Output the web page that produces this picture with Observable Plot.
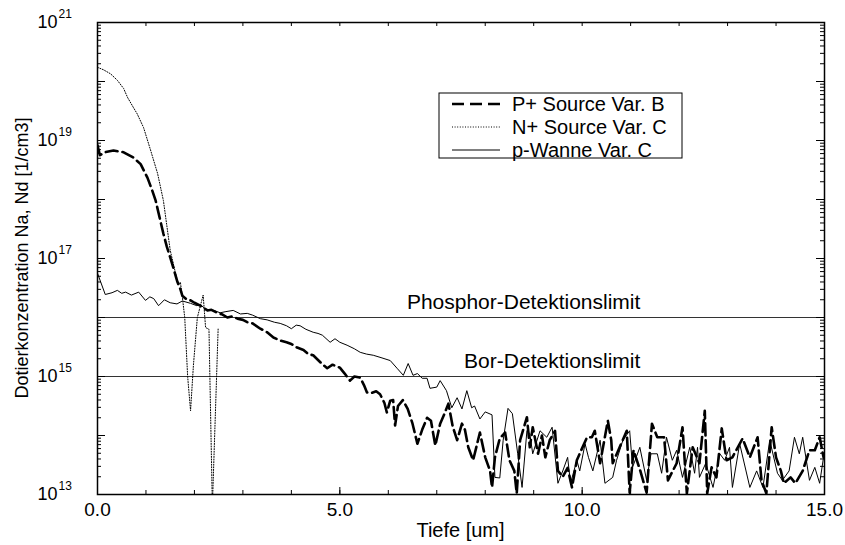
<!DOCTYPE html>
<html><head><meta charset="utf-8">
<script src="https://cdn.jsdelivr.net/npm/d3@7"></script>
<script src="https://cdn.jsdelivr.net/npm/@observablehq/plot@0.6"></script>
<style>
body{margin:0;background:#fff;}
#chart{position:relative;width:845px;height:545px;}
</style></head><body><div id="chart"></div>
<script>
// ---- data (depth in um, log10 of concentration in 1/cm3) ----
const seriesNames = ["P+ Source Var. B", "N+ Source Var. C", "p-Wanne Var. C"];

const pDepth = [0,0.05,0.15,0.33,0.54,0.74,0.89,1.03,1.13,1.2,1.28,1.36,1.43,1.5,1.58,1.65,1.71,1.75,1.85,1.92,2.0,2.12,2.27,2.35,2.47,2.58,2.68,2.78,2.89,3.0,3.09,3.2,3.36,3.5,3.63,3.77,3.9,4.0,4.12,4.25,4.35,4.45,4.55,4.65,4.74,4.85,5.0,5.1,5.21,5.3,5.42,5.5,5.56,5.65,5.75,5.83,5.92,5.97,6.04,6.1,6.14,6.2,6.3,6.4,6.5,6.6,6.7,6.8,6.88,6.97,7.07,7.15,7.24,7.33,7.42,7.52,7.58,7.65,7.75,7.89,8.0,8.1,8.14,8.2,8.3,8.41,8.5,8.6,8.65,8.72,8.86,8.92,8.98,9.09,9.17,9.24,9.33,9.44,9.5,9.6,9.7,9.79,9.89,9.98,10.1,10.2,10.26,10.37,10.53,10.6,10.63,10.72,10.92,10.98,11.06,11.2,11.33,11.44,11.55,11.69,11.77,11.95,12.07,12.16,12.28,12.42,12.53,12.58,12.67,12.77,12.88,12.98,13.1,13.31,13.46,13.62,13.7,13.8,13.91,14.0,14.1,14.16,14.3,14.4,14.55,14.69,14.8,14.9,14.98];
const pLog = [18.92,18.75,18.8,18.83,18.8,18.71,18.6,18.37,18.15,17.98,17.7,17.42,17.2,17.02,16.8,16.6,16.48,16.37,16.3,16.29,16.25,16.2,16.12,16.13,16.08,16.05,16.0,16.02,15.98,15.96,15.92,15.9,15.81,15.75,15.66,15.61,15.58,15.55,15.49,15.45,15.38,15.36,15.28,15.2,15.14,15.2,15.15,15.05,14.93,15.0,14.98,14.85,14.73,14.72,14.75,14.7,14.55,14.39,14.59,14.6,14.17,14.5,14.6,14.45,14.2,13.86,14.1,14.3,14.25,13.83,14.2,14.35,14.54,14.15,13.92,14.2,14.1,13.8,13.58,14.05,13.63,13.4,13.12,13.63,13.95,14.05,13.58,13.4,13.02,13.92,14.31,13.8,14.14,13.69,14.0,13.63,13.92,14.08,13.4,13.3,13.45,13.12,13.58,13.75,13.97,13.97,14.08,13.53,14.25,13.92,13.53,13.7,14.08,13.03,13.75,13.4,13.03,14.2,13.97,13.97,13.24,13.53,14.14,13.02,13.8,13.53,14.42,13.02,13.46,13.29,14.12,13.58,13.63,13.95,13.63,13.97,13.24,13.02,14.14,13.63,13.4,13.19,13.29,13.19,13.4,13.75,13.75,13.97,13.63];

const nDepth = [0,0.12,0.27,0.41,0.54,0.62,0.74,0.82,0.95,1.09,1.24,1.36,1.5,1.61,1.67,1.71,1.75,1.8,1.86,1.92,1.98,2.06,2.18,2.23,2.3,2.37,2.49];
const nLog = [20.24,20.2,20.13,20.02,19.88,19.73,19.56,19.45,19.22,18.85,18.44,17.98,17.14,16.75,16.55,16.6,16.35,16.0,15.0,14.42,15.2,16.0,16.38,15.83,15.8,12.8,15.83];

const wDepth = [0,0.16,0.3,0.41,0.5,0.58,0.7,0.85,0.99,1.08,1.16,1.26,1.38,1.5,1.64,1.75,1.92,2.05,2.12,2.26,2.4,2.53,2.65,2.8,2.95,3.09,3.2,3.36,3.5,3.65,3.77,3.9,4.0,4.1,4.18,4.3,4.45,4.55,4.64,4.8,4.9,5.0,5.15,5.3,5.42,5.55,5.69,5.85,6.04,6.18,6.31,6.41,6.51,6.6,6.7,6.8,6.86,7.0,7.07,7.2,7.31,7.42,7.52,7.62,7.72,7.78,7.89,8.0,8.14,8.2,8.3,8.37,8.47,8.56,8.67,8.76,8.86,8.92,8.98,9.13,9.27,9.38,9.5,9.6,9.7,9.76,9.89,9.95,10.06,10.13,10.22,10.37,10.47,10.63,10.71,10.84,10.98,11.04,11.19,11.33,11.42,11.55,11.64,11.74,11.86,11.95,12.07,12.22,12.32,12.38,12.42,12.55,12.7,12.84,12.94,13.04,13.1,13.25,13.46,13.6,13.73,13.87,14.03,14.13,14.27,14.38,14.48,14.55,14.69,14.8,14.9,14.98];
const wLog = [16.75,16.39,16.42,16.46,16.41,16.43,16.38,16.43,16.29,16.35,16.32,16.2,16.3,16.25,16.23,16.28,16.24,16.2,16.22,16.12,16.12,16.08,16.1,16.12,16.06,16.07,16.04,15.98,15.96,15.92,15.9,15.86,15.81,15.87,15.86,15.8,15.75,15.73,15.7,15.58,15.64,15.58,15.53,15.47,15.41,15.38,15.36,15.32,15.27,15.14,15.02,15.22,15.02,15.05,14.97,14.97,14.8,14.82,14.93,14.76,14.47,14.64,14.45,14.76,14.47,14.5,14.28,14.4,14.35,13.29,13.28,13.92,14.46,14.37,13.69,13.12,14.08,14.03,13.69,14.08,13.97,14.14,13.19,13.4,13.63,13.19,13.58,13.4,13.86,13.63,13.4,13.92,13.19,13.29,13.58,13.92,14.08,13.46,13.8,13.24,13.69,13.69,13.36,13.97,13.58,13.75,13.29,13.8,13.36,13.8,13.29,13.53,13.12,13.69,13.58,13.8,13.12,13.86,13.12,13.4,13.12,13.92,13.36,13.24,13.4,13.97,13.69,13.97,13.24,13.46,13.19,13.63];

const limitValues = [1e16, 1e15];
const limitLabels = ["Phosphor-Detektionslimit", "Bor-Detektionslimit"];
const xTickValues = [0,1,2,3,4,5,6,7,8,9,10,11,12,13,14,15];
const xLabelValues = [0, 5, 10, 15];
const yDecades = [13,14,15,16,17,18,19,20,21];
const yLabelDecades = [13,15,17,19,21];
const yMinorMultipliers = [2,3,4,5,6,7,8,9];
const xTitle = "Tiefe [um]";
const yTitle = "Dotierkonzentration Na, Nd [1/cm3]";

// ---- build tables ----
const toRows = (xs, ls) => xs.map((x, i) => ({x, y: Math.pow(10, ls[i])}));
const pRows = toRows(pDepth, pLog);
const nRows = toRows(nDepth, nLog);
const wRows = toRows(wDepth, wLog);
const yDecadeValues = yDecades.map(d => Math.pow(10, d));
const yLabelValues = yLabelDecades.map(d => Math.pow(10, d));
const yMinorValues = yDecades.slice(0, -1).flatMap(d => yMinorMultipliers.map(m => m * Math.pow(10, d)));

const W = 845, H = 545, mL = 97, mT = 22, mR = 21, mB = 51;
const fw = W - mL - mR, fh = H - mT - mB;
const FONT = "'Liberation Sans', Arial, Helvetica, sans-serif";

const svg = Plot.plot({
  width: W, height: H,
  marginLeft: mL, marginTop: mT, marginRight: mR, marginBottom: mB,
  style: {fontFamily: FONT, background: "white", color: "#000", overflow: "visible"},
  x: {domain: [0, 15]},
  y: {type: "log", domain: [1e13, 1e21], axis: null},
  marks: [
    Plot.ruleY(limitValues, {y: d => d, stroke: "#333", strokeWidth: 1.2}),
    Plot.line(wRows, {x: "x", y: "y", stroke: "#000", strokeWidth: 1, clip: true}),
    Plot.line(nRows, {x: "x", y: "y", stroke: "#000", strokeWidth: 1, strokeDasharray: "1,1.6", clip: true}),
    Plot.line(pRows, {x: "x", y: "y", stroke: "#000", strokeWidth: 2.6, strokeDasharray: "12,5", clip: true}),
    Plot.text(limitLabels, {x: () => 11.2, y: (d, i) => limitValues[i], text: d => d, textAnchor: "end", dy: -15, fontSize: 21, fill: "#000"}),
    Plot.frame({stroke: "#000", strokeWidth: 1.5}),
    // inward ticks
    Plot.ruleX(xTickValues, {x: d => d, insetTop: fh - 4, stroke: "#000"}),
    Plot.ruleX(xLabelValues, {x: d => d, insetTop: fh - 7, stroke: "#000"}),
    Plot.ruleX(xTickValues, {x: d => d, insetBottom: fh - 4, stroke: "#000"}),
    Plot.ruleY(yMinorValues, {y: d => d, insetRight: fw - 4, stroke: "#000"}),
    Plot.ruleY(yDecadeValues, {y: d => d, insetRight: fw - 8, stroke: "#000"}),
    Plot.ruleY(yMinorValues, {y: d => d, insetLeft: fw - 4, stroke: "#000"}),
    Plot.ruleY(yDecadeValues, {y: d => d, insetLeft: fw - 8, stroke: "#000"}),
    Plot.axisX(xLabelValues, {tickSize: 0, tickPadding: 8, tickFormat: d3.format(".1f"), fontSize: 19, label: null}),
    Plot.text(yLabelValues, {y: d => d, frameAnchor: "left", dx: -40, textAnchor: "end", text: () => "10", fontSize: 18, fill: "#000"}),
    Plot.text(yLabelValues, {y: d => d, frameAnchor: "left", dx: -39, dy: -8, textAnchor: "start", text: d => String(Math.round(Math.log10(d))), fontSize: 12, fill: "#000"})
  ]
});

const s = d3.select(svg);
s.append("text").attr("x", mL + fw / 2).attr("y", 537).attr("text-anchor", "middle")
  .attr("font-size", 20).attr("font-family", FONT).attr("fill", "#000").text(xTitle);
s.append("text").attr("transform", `translate(28,${mT + fh / 2}) rotate(-90)`).attr("text-anchor", "middle")
  .attr("font-size", 18).attr("font-family", FONT).attr("fill", "#000").text(yTitle);

// legend
const lg = s.append("g").attr("font-family", FONT).attr("font-size", 20).attr("text-anchor", "start");
lg.append("rect").attr("x", 439).attr("y", 93).attr("width", 243).attr("height", 65)
  .attr("fill", "white").attr("stroke", "#000").attr("stroke-width", 1);
const legendStyles = [
  {w: 2.6, dash: "12,6"},
  {w: 1, dash: "1,1.6"},
  {w: 1, dash: null}
];
seriesNames.forEach((name, i) => {
  const yy = 104 + i * 23;
  const ln = lg.append("line").attr("x1", 452).attr("x2", 500).attr("y1", yy).attr("y2", yy)
    .attr("stroke", "#000").attr("stroke-width", legendStyles[i].w);
  if (legendStyles[i].dash) ln.attr("stroke-dasharray", legendStyles[i].dash);
  lg.append("text").attr("x", 512).attr("y", yy).attr("dy", "0.35em").attr("text-anchor", "start")
    .attr("fill", "#000").text(name);
});

document.getElementById("chart").appendChild(svg);
</script></body></html>
